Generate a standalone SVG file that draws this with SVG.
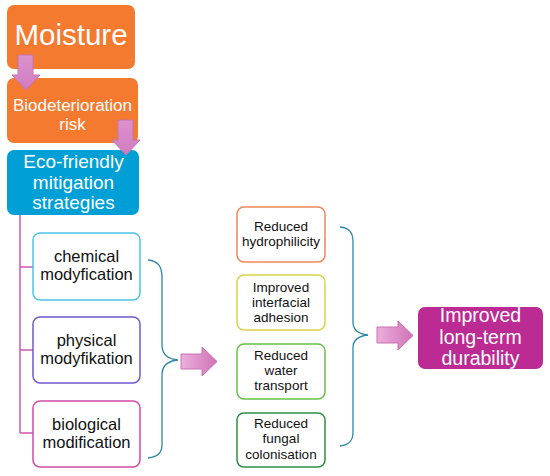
<svg xmlns="http://www.w3.org/2000/svg" width="550" height="476" viewBox="0 0 550 476">
<defs>
<linearGradient id="gh" x1="0" y1="0" x2="1" y2="0">
<stop offset="0" stop-color="#EBB0DA"/><stop offset="1" stop-color="#D072B8"/>
</linearGradient>
<linearGradient id="gv" x1="0" y1="0" x2="0" y2="1">
<stop offset="0" stop-color="#DC92CC"/><stop offset="1" stop-color="#D07CC0"/>
</linearGradient>
</defs>
<style>
text{font-family:"Liberation Sans",Arial,sans-serif;text-anchor:middle}
.w{fill:#fff}
.k{fill:#111}
.box{fill:#fff;stroke-width:1.5}
.arr{stroke:#C872B2;stroke-width:1}
.br{fill:none;stroke:#2E85A8;stroke-width:1.3}
.tree{fill:none;stroke:#D255B2;stroke-width:1.5}
</style>
<rect width="550" height="476" fill="#fff"/>

<g id="connectors">
<path class="tree" d="M20,215 V433 M20,267 H33 M20,350 H33 M20,433 H33"/>
<path class="br" d="M148,260 C158,261 162,266 162,278 V345 C162,354 167,359 178,360 C167,361 162,366 162,375 V445 C162,452 158,457 148,458"/>
<path class="br" d="M340,227 C349,228 353,232 353,242 V322 C353,330 358,334 368,335 C358,336 353,340 353,348 V432 C353,441 349,445 340,446"/>
<path class="arr" fill="url(#gh)" d="M181,354 H202 V347 L217,361.5 L202,376 V369 H181 Z"/>
<path class="arr" fill="url(#gh)" d="M377,327 H398 V321 L413,335.5 L398,350 V343 H377 Z"/>
</g>

<g id="moisture">
<rect x="7" y="5" width="128" height="64" rx="7" fill="#F47A2F"/>
<text class="w" x="71" y="45" font-size="29.5">Moisture</text>
</g>

<g id="biodeterioration">
<rect x="7" y="78" width="131" height="65" rx="7" fill="#F47A2F"/>
<text class="w" x="72.5" y="111" font-size="17">Biodeterioration</text>
<text class="w" x="72.5" y="130" font-size="17">risk</text>
</g>

<g id="eco">
<rect x="7" y="150" width="132" height="65" rx="7" fill="#00A0D6"/>
<text class="w" x="73.5" y="168" font-size="19">Eco-friendly</text>
<text class="w" x="73.5" y="189" font-size="19">mitigation</text>
<text class="w" x="73.5" y="209" font-size="19">strategies</text>
</g>

<g id="arrow-top">
<path class="arr" fill="url(#gv)" d="M18,55 H33 V75 H40 L26,90 L12,75 H18 Z"/>
</g>
<g id="arrow-mid">
<path class="arr" fill="url(#gv)" d="M118,120 H133 V140 H140 L126,155 L112,140 H118 Z"/>
</g>

<g id="chemical">
<rect class="box" x="33" y="233" width="107" height="67" rx="7" stroke="#4EC3E6"/>
<text class="k" x="86.5" y="262" font-size="16.5">chemical</text>
<text class="k" x="86.5" y="280" font-size="16.5">modyfication</text>
</g>

<g id="physical">
<rect class="box" x="33" y="317" width="107" height="66" rx="7" stroke="#7158D4"/>
<text class="k" x="86.5" y="346" font-size="16.5">physical</text>
<text class="k" x="86.5" y="364" font-size="16.5">modyfikation</text>
</g>

<g id="biological">
<rect class="box" x="33" y="401" width="107" height="66" rx="7" stroke="#D44AA8"/>
<text class="k" x="86.5" y="430" font-size="16.5">biological</text>
<text class="k" x="86.5" y="448" font-size="16.5">modification</text>
</g>

<g id="hydrophilicity">
<rect class="box" x="237" y="207" width="88" height="55" rx="7" stroke="#F2865A"/>
<text class="k" x="281" y="231" font-size="13.5">Reduced</text>
<text class="k" x="281" y="246" font-size="13.5">hydrophilicity</text>
</g>

<g id="adhesion">
<rect class="box" x="237" y="275" width="88" height="55" rx="7" stroke="#D9D44A"/>
<text class="k" x="281" y="292" font-size="13.5">Improved</text>
<text class="k" x="281" y="307" font-size="13.5">interfacial</text>
<text class="k" x="281" y="322" font-size="13.5">adhesion</text>
</g>

<g id="water">
<rect class="box" x="237" y="344" width="88" height="55" rx="7" stroke="#66C04A"/>
<text class="k" x="281" y="360" font-size="13.5">Reduced</text>
<text class="k" x="281" y="375" font-size="13.5">water</text>
<text class="k" x="281" y="390" font-size="13.5">transport</text>
</g>

<g id="fungal">
<rect class="box" x="237" y="413" width="88" height="54" rx="7" stroke="#2E8E44"/>
<text class="k" x="281" y="428" font-size="13.5">Reduced</text>
<text class="k" x="281" y="443" font-size="13.5">fungal</text>
<text class="k" x="281" y="459" font-size="13.5">colonisation</text>
</g>

<g id="durability">
<rect x="418" y="307" width="125" height="62" rx="7" fill="#BC2A94"/>
<text class="w" x="480.5" y="322" font-size="19.5">Improved</text>
<text class="w" x="480.5" y="344" font-size="19.5">long-term</text>
<text class="w" x="480.5" y="365" font-size="19.5">durability</text>
</g>
</svg>
